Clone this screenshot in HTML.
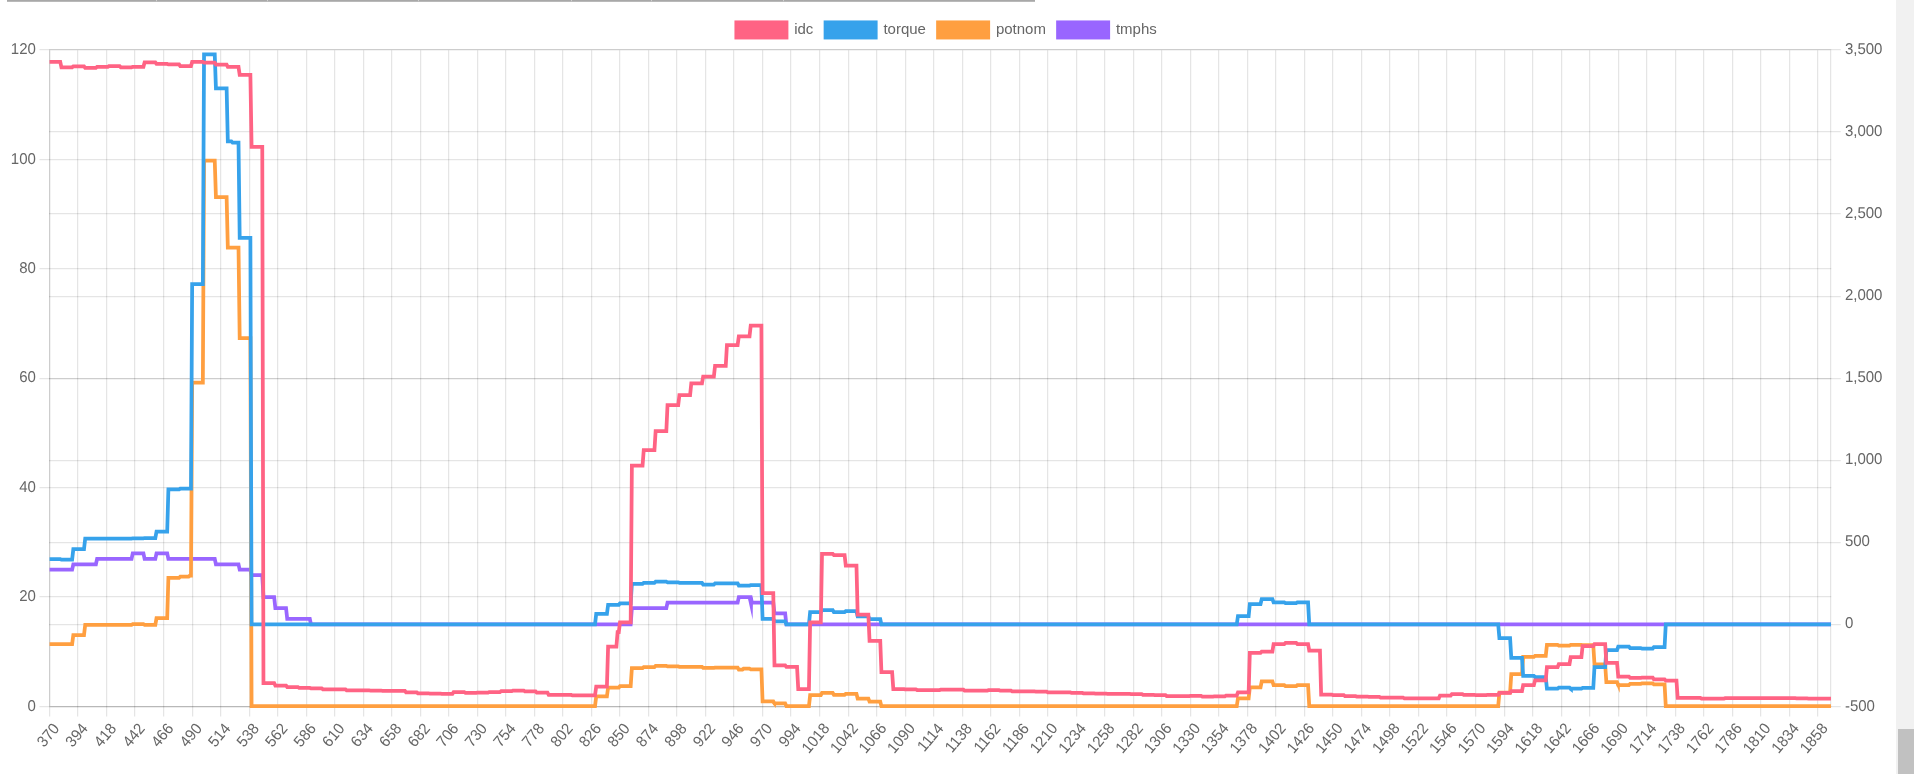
<!DOCTYPE html>
<html><head><meta charset="utf-8"><title>chart</title>
<style>
html,body{margin:0;padding:0;background:#fff;overflow:hidden}
body{width:1914px;height:774px;position:relative;font-family:"Liberation Sans",sans-serif}
svg{position:absolute;left:0;top:0}
text{font-family:"Liberation Sans",sans-serif;font-size:15px;fill:#666}
.grid rect{fill:rgba(0,0,0,0.1)}
.tx{filter:grayscale(1)}
.ds path{fill:none;stroke-width:3.75;stroke-linejoin:miter;stroke-miterlimit:10;stroke-linecap:butt}
</style></head><body>
<svg width="1914" height="774" viewBox="0 0 1914 774">
<rect x="0" y="0" width="1914" height="774" fill="#fff"/>
<rect x="7" y="0" width="1028" height="1.8" fill="#a8a8a8"/>
<g fill="#d0d0d0">
<rect x="156" y="0" width="1" height="1.2"/><rect x="267" y="0" width="1" height="1.2"/><rect x="418" y="0" width="1" height="1.2"/>
<rect x="571" y="0" width="1" height="1.2"/><rect x="651" y="0" width="1" height="1.2"/><rect x="783" y="0" width="1" height="1.2"/>
</g>
<g class="grid">
<rect x="49" y="50.25" width="1.25" height="655.75"/>
<rect x="49" y="707.25" width="1.25" height="9.25"/>
<rect x="77" y="50.25" width="1.25" height="666.25"/>
<rect x="106" y="50.25" width="1.25" height="666.25"/>
<rect x="134" y="50.25" width="1.25" height="666.25"/>
<rect x="163" y="50.25" width="1.25" height="666.25"/>
<rect x="192" y="50.25" width="1.25" height="666.25"/>
<rect x="220" y="50.25" width="1.25" height="666.25"/>
<rect x="249" y="50.25" width="1.25" height="666.25"/>
<rect x="277" y="50.25" width="1.25" height="666.25"/>
<rect x="306" y="50.25" width="1.25" height="666.25"/>
<rect x="334" y="50.25" width="1.25" height="666.25"/>
<rect x="363" y="50.25" width="1.25" height="666.25"/>
<rect x="391" y="50.25" width="1.25" height="666.25"/>
<rect x="420" y="50.25" width="1.25" height="666.25"/>
<rect x="448" y="50.25" width="1.25" height="666.25"/>
<rect x="477" y="50.25" width="1.25" height="666.25"/>
<rect x="505" y="50.25" width="1.25" height="666.25"/>
<rect x="534" y="50.25" width="1.25" height="666.25"/>
<rect x="562" y="50.25" width="1.25" height="666.25"/>
<rect x="591" y="50.25" width="1.25" height="666.25"/>
<rect x="619" y="50.25" width="1.25" height="666.25"/>
<rect x="648" y="50.25" width="1.25" height="666.25"/>
<rect x="676" y="50.25" width="1.25" height="666.25"/>
<rect x="705" y="50.25" width="1.25" height="666.25"/>
<rect x="733" y="50.25" width="1.25" height="666.25"/>
<rect x="762" y="50.25" width="1.25" height="666.25"/>
<rect x="790" y="50.25" width="1.25" height="666.25"/>
<rect x="819" y="50.25" width="1.25" height="666.25"/>
<rect x="848" y="50.25" width="1.25" height="666.25"/>
<rect x="876" y="50.25" width="1.25" height="666.25"/>
<rect x="905" y="50.25" width="1.25" height="666.25"/>
<rect x="933" y="50.25" width="1.25" height="666.25"/>
<rect x="962" y="50.25" width="1.25" height="666.25"/>
<rect x="990" y="50.25" width="1.25" height="666.25"/>
<rect x="1019" y="50.25" width="1.25" height="666.25"/>
<rect x="1047" y="50.25" width="1.25" height="666.25"/>
<rect x="1076" y="50.25" width="1.25" height="666.25"/>
<rect x="1104" y="50.25" width="1.25" height="666.25"/>
<rect x="1133" y="50.25" width="1.25" height="666.25"/>
<rect x="1161" y="50.25" width="1.25" height="666.25"/>
<rect x="1190" y="50.25" width="1.25" height="666.25"/>
<rect x="1218" y="50.25" width="1.25" height="666.25"/>
<rect x="1247" y="50.25" width="1.25" height="666.25"/>
<rect x="1275" y="50.25" width="1.25" height="666.25"/>
<rect x="1304" y="50.25" width="1.25" height="666.25"/>
<rect x="1332" y="50.25" width="1.25" height="666.25"/>
<rect x="1361" y="50.25" width="1.25" height="666.25"/>
<rect x="1389" y="50.25" width="1.25" height="666.25"/>
<rect x="1418" y="50.25" width="1.25" height="666.25"/>
<rect x="1446" y="50.25" width="1.25" height="666.25"/>
<rect x="1475" y="50.25" width="1.25" height="666.25"/>
<rect x="1504" y="50.25" width="1.25" height="666.25"/>
<rect x="1532" y="50.25" width="1.25" height="666.25"/>
<rect x="1561" y="50.25" width="1.25" height="666.25"/>
<rect x="1589" y="50.25" width="1.25" height="666.25"/>
<rect x="1618" y="50.25" width="1.25" height="666.25"/>
<rect x="1646" y="50.25" width="1.25" height="666.25"/>
<rect x="1675" y="50.25" width="1.25" height="666.25"/>
<rect x="1703" y="50.25" width="1.25" height="666.25"/>
<rect x="1732" y="50.25" width="1.25" height="666.25"/>
<rect x="1760" y="50.25" width="1.25" height="666.25"/>
<rect x="1789" y="50.25" width="1.25" height="666.25"/>
<rect x="1817" y="50.25" width="1.25" height="666.25"/>
<rect x="39.50" y="49" width="1791.75" height="1.25"/>
<rect x="39.50" y="159" width="1791.75" height="1.25"/>
<rect x="39.50" y="268" width="1791.75" height="1.25"/>
<rect x="39.50" y="378" width="1791.75" height="1.25"/>
<rect x="39.50" y="487" width="1791.75" height="1.25"/>
<rect x="39.50" y="596" width="1791.75" height="1.25"/>
<rect x="39.50" y="706" width="1791.75" height="1.25"/>
<rect x="49.00" y="49" width="1791.75" height="1.25"/>
<rect x="49.00" y="131" width="1791.75" height="1.25"/>
<rect x="49.00" y="213" width="1791.75" height="1.25"/>
<rect x="49.00" y="296" width="1791.75" height="1.25"/>
<rect x="49.00" y="378" width="1791.75" height="1.25"/>
<rect x="49.00" y="460" width="1791.75" height="1.25"/>
<rect x="49.00" y="542" width="1791.75" height="1.25"/>
<rect x="49.00" y="624" width="1791.75" height="1.25"/>
<rect x="49.00" y="706" width="1791.75" height="1.25"/>
<rect x="49" y="50.25" width="1.25" height="655.75"/>
<rect x="1830" y="50.25" width="1.25" height="655.75"/>
<rect x="49.00" y="706" width="1782.25" height="1.25"/>
</g>
<g class="ds">
<path stroke="#9966ff" d="M49.55 569.73 L72.13 569.73 L73.32 564.26 L95.90 564.26 L97.09 558.79 L131.55 558.79 L132.74 553.32 L143.43 553.32 L144.62 558.79 L155.32 558.79 L156.51 553.32 L167.20 553.32 L168.39 558.79 L214.74 558.79 L215.93 564.26 L238.51 564.26 L239.69 569.73 L250.39 569.73 L251.58 575.20 L262.27 575.20 L263.46 597.08 L274.16 597.08 L275.35 608.02 L286.04 608.02 L287.23 618.96 L309.81 618.96 L311.00 624.43 L630.68 624.43 L631.87 608.02 L666.33 608.02 L667.52 602.55 L737.63 602.55 L738.82 597.08 L750.71 597.08 L751.89 602.55 L773.28 602.55 L774.47 613.49 L785.17 613.49 L786.36 624.43 L1830.96 624.43"/>
<polygon fill="#9966ff" points="748.0,598.8 751.5,597 752.85,598 752.85,606 752.6,619.6"/>
<path stroke="#ff9f40" d="M49.55 644.00 L72.13 644.00 L73.32 635.00 L84.01 635.00 L85.20 624.90 L131.55 624.90 L132.74 624.20 L143.43 624.20 L144.62 624.90 L155.32 624.90 L156.51 618.10 L167.20 618.10 L168.39 577.80 L179.09 577.80 L180.27 576.70 L188.59 576.70 L189.78 575.70 L190.97 575.70 L192.16 382.70 L202.85 382.70 L204.04 160.70 L214.74 160.70 L215.93 197.10 L226.62 197.10 L227.81 247.60 L238.51 247.60 L239.69 338.20 L250.39 338.20 L251.58 706.20 L595.03 706.20 L596.21 696.40 L606.91 696.40 L608.10 687.60 L618.79 687.60 L619.98 686.10 L630.68 686.10 L631.87 668.20 L642.56 668.20 L643.75 667.00 L654.45 667.00 L655.63 665.80 L666.33 665.80 L667.52 666.40 L678.21 666.40 L679.40 666.80 L701.98 666.80 L703.17 667.90 L713.87 667.90 L715.05 667.60 L725.75 667.60 L726.94 667.70 L737.63 667.70 L738.82 669.60 L742.39 669.60 L743.57 668.70 L749.52 668.70 L750.71 669.30 L761.40 669.30 L762.59 701.30 L773.28 701.30 L774.47 703.40 L785.17 703.40 L786.36 706.00 L808.94 706.00 L810.13 695.20 L820.82 695.20 L822.01 692.90 L832.70 692.90 L833.89 694.80 L844.59 694.80 L845.78 693.80 L856.47 693.80 L857.66 698.50 L868.36 698.50 L869.55 701.70 L880.24 701.70 L881.43 706.20 L1236.76 706.20 L1237.95 698.30 L1248.64 698.30 L1249.83 687.40 L1260.53 687.40 L1261.72 681.40 L1272.41 681.40 L1273.60 685.20 L1284.30 685.20 L1285.48 686.20 L1296.18 686.20 L1297.37 685.20 L1308.06 685.20 L1309.25 706.20 L1498.21 706.20 L1499.40 692.50 L1510.09 692.50 L1511.28 674.10 L1521.98 674.10 L1523.16 656.90 L1533.86 656.90 L1535.05 655.90 L1545.74 655.90 L1546.93 644.90 L1557.63 644.90 L1558.82 645.60 L1569.51 645.60 L1570.70 644.90 L1581.40 644.90 L1582.58 645.20 L1593.28 645.20 L1594.47 664.40 L1605.16 664.40 L1606.35 682.10 L1617.05 682.10 L1618.24 685.00 L1628.93 685.00 L1630.12 683.80 L1640.82 683.80 L1642.00 683.30 L1652.70 683.30 L1653.89 684.40 L1664.58 684.40 L1665.77 706.20 L1830.96 706.20"/>
<polygon fill="#ff9f40" points="772.2,703 776.15,702 776.15,704.8 775.6,707.9"/>
<polygon fill="#ff9f40" points="1615.9,683.8 1619.85,683 1619.85,686.7 1619.7,692.9"/>
<path stroke="#36a2eb" d="M49.55 559.00 L60.25 559.00 L61.43 559.60 L72.13 559.60 L73.32 549.20 L84.01 549.20 L85.20 538.60 L107.78 538.60 L108.97 538.70 L131.55 538.70 L132.74 538.30 L143.43 538.30 L144.62 538.00 L155.32 538.00 L156.51 531.70 L167.20 531.70 L168.39 489.40 L179.09 489.40 L180.27 488.60 L190.97 488.60 L192.16 284.20 L202.85 284.20 L204.04 54.40 L214.74 54.40 L215.93 88.30 L226.62 88.30 L227.81 141.30 L231.38 141.30 L232.56 142.50 L238.51 142.50 L239.69 237.80 L250.39 237.80 L251.58 624.40 L595.03 624.40 L596.21 613.90 L606.91 613.90 L608.10 604.90 L618.79 604.90 L619.98 603.30 L630.68 603.30 L631.87 583.80 L642.56 583.80 L643.75 582.80 L654.45 582.80 L655.63 581.70 L666.33 581.70 L667.52 582.30 L678.21 582.30 L679.40 582.80 L701.98 582.80 L703.17 584.50 L713.87 584.50 L715.05 583.40 L737.63 583.40 L738.82 585.50 L749.52 585.50 L750.71 585.10 L761.40 585.10 L762.59 618.90 L773.28 618.90 L774.47 621.40 L785.17 621.40 L786.36 624.40 L808.94 624.40 L810.13 612.10 L820.82 612.10 L822.01 610.00 L832.70 610.00 L833.89 612.10 L844.59 612.10 L845.78 611.20 L856.47 611.20 L857.66 616.30 L868.36 616.30 L869.55 619.00 L880.24 619.00 L881.43 624.40 L1236.76 624.40 L1237.95 616.10 L1248.64 616.10 L1249.83 604.00 L1260.53 604.00 L1261.72 599.00 L1272.41 599.00 L1273.60 602.30 L1284.30 602.30 L1285.48 603.20 L1296.18 603.20 L1297.37 602.30 L1308.06 602.30 L1309.25 624.40 L1498.21 624.40 L1499.40 638.00 L1510.09 638.00 L1511.28 657.80 L1521.98 657.80 L1523.16 675.90 L1533.86 675.90 L1535.05 677.00 L1545.74 677.00 L1546.93 688.70 L1557.63 688.70 L1558.82 687.60 L1569.51 687.60 L1570.70 688.70 L1581.40 688.70 L1582.58 687.90 L1593.28 687.90 L1594.47 667.20 L1605.16 667.20 L1606.35 650.00 L1617.05 650.00 L1618.24 646.60 L1628.93 646.60 L1630.12 648.20 L1640.82 648.20 L1642.00 648.50 L1652.70 648.50 L1653.89 647.10 L1664.58 647.10 L1665.77 624.40 L1830.96 624.40"/>
<polygon fill="#36a2eb" points="1568.8,689.7 1572.8,689 1572.8,690.5 1572.8,692.9"/>
<path stroke="#ff6384" d="M49.55 61.90 L60.25 61.90 L61.43 67.30 L72.13 67.30 L73.32 66.30 L84.01 66.30 L85.20 67.90 L95.90 67.90 L97.09 66.90 L107.78 66.90 L108.97 66.10 L119.67 66.10 L120.85 67.30 L131.55 67.30 L132.74 66.80 L143.43 66.80 L144.62 62.30 L155.32 62.30 L156.51 63.90 L167.20 63.90 L168.39 64.40 L179.09 64.40 L180.27 66.10 L190.97 66.10 L192.16 61.90 L202.85 61.90 L204.04 62.60 L214.74 62.60 L215.93 64.70 L226.62 64.70 L227.81 66.90 L238.51 66.90 L239.69 74.80 L250.39 74.80 L251.58 146.90 L262.27 146.90 L263.46 683.00 L274.16 683.00 L275.35 685.50 L286.04 685.50 L287.23 687.00 L297.93 687.00 L299.11 687.90 L309.81 687.90 L311.00 688.30 L321.69 688.30 L322.88 689.30 L345.46 689.30 L346.65 690.40 L369.23 690.40 L370.42 690.50 L381.11 690.50 L382.30 690.80 L404.88 690.80 L406.07 692.40 L416.77 692.40 L417.95 693.30 L428.65 693.30 L429.84 693.70 L440.53 693.70 L441.72 693.90 L452.42 693.90 L453.61 692.00 L464.30 692.00 L465.49 692.90 L476.19 692.90 L477.37 692.70 L488.07 692.70 L489.26 692.00 L499.95 692.00 L501.14 691.20 L511.84 691.20 L513.03 690.50 L523.72 690.50 L524.91 691.40 L535.61 691.40 L536.79 692.70 L547.49 692.70 L548.68 694.90 L571.26 694.90 L572.45 695.40 L595.03 695.40 L596.21 686.60 L606.91 686.60 L608.10 646.50 L616.42 646.50 L617.60 632.10 L618.79 632.10 L619.98 622.40 L630.68 622.40 L631.87 465.50 L642.56 465.50 L643.75 450.20 L654.45 450.20 L655.63 431.10 L666.33 431.10 L667.52 405.20 L678.21 405.20 L679.40 395.00 L690.10 395.00 L691.29 383.40 L701.98 383.40 L703.17 376.50 L713.87 376.50 L715.05 365.80 L725.75 365.80 L726.94 345.10 L737.63 345.10 L738.82 336.30 L749.52 336.30 L750.71 325.70 L761.40 325.70 L762.59 593.20 L773.28 593.20 L774.47 665.30 L785.17 665.30 L786.36 666.80 L797.05 666.80 L798.24 689.10 L808.94 689.10 L810.13 622.40 L820.82 622.40 L822.01 553.80 L832.70 553.80 L833.89 555.10 L844.59 555.10 L845.78 565.50 L856.47 565.50 L857.66 614.60 L868.36 614.60 L869.55 640.80 L880.24 640.80 L881.43 672.20 L892.12 672.20 L893.31 689.10 L904.01 689.10 L905.20 689.40 L915.89 689.40 L917.08 690.00 L939.66 690.00 L940.85 689.50 L951.54 689.50 L952.73 689.70 L963.43 689.70 L964.62 690.70 L987.20 690.70 L988.39 690.20 L999.08 690.20 L1000.27 690.70 L1010.96 690.70 L1012.15 691.40 L1034.73 691.40 L1035.92 691.70 L1046.62 691.70 L1047.81 692.40 L1070.38 692.40 L1071.57 692.90 L1082.27 692.90 L1083.46 693.30 L1094.15 693.30 L1095.34 693.50 L1106.04 693.50 L1107.23 693.80 L1129.80 693.80 L1130.99 694.00 L1141.69 694.00 L1142.88 694.80 L1153.57 694.80 L1154.76 695.00 L1165.46 695.00 L1166.64 696.00 L1189.22 696.00 L1190.41 695.80 L1201.11 695.80 L1202.30 696.50 L1212.99 696.50 L1214.18 696.30 L1224.88 696.30 L1226.06 695.50 L1236.76 695.50 L1237.95 692.40 L1248.64 692.40 L1249.83 652.80 L1260.53 652.80 L1261.72 651.50 L1272.41 651.50 L1273.60 644.00 L1284.30 644.00 L1285.48 642.90 L1296.18 642.90 L1297.37 644.00 L1308.06 644.00 L1309.25 650.60 L1319.95 650.60 L1321.14 694.60 L1331.83 694.60 L1333.02 695.00 L1343.72 695.00 L1344.90 696.10 L1355.60 696.10 L1356.79 696.50 L1367.48 696.50 L1368.67 696.80 L1379.37 696.80 L1380.56 697.50 L1391.25 697.50 L1392.44 697.70 L1403.14 697.70 L1404.32 698.30 L1438.79 698.30 L1439.98 695.60 L1450.67 695.60 L1451.86 694.10 L1462.56 694.10 L1463.74 694.80 L1474.44 694.80 L1475.63 695.10 L1486.32 695.10 L1487.51 694.80 L1498.21 694.80 L1499.40 692.90 L1510.09 692.90 L1511.28 691.00 L1521.98 691.00 L1523.16 685.10 L1533.86 685.10 L1535.05 680.30 L1545.74 680.30 L1546.93 667.20 L1557.63 667.20 L1558.82 664.00 L1569.51 664.00 L1570.70 657.10 L1581.40 657.10 L1582.58 646.10 L1593.28 646.10 L1594.47 644.00 L1605.16 644.00 L1606.35 662.80 L1617.05 662.80 L1618.24 676.60 L1628.93 676.60 L1630.12 677.80 L1640.82 677.80 L1642.00 677.60 L1652.70 677.60 L1653.89 679.30 L1664.58 679.30 L1665.77 680.70 L1676.47 680.70 L1677.66 697.90 L1700.24 697.90 L1701.42 698.50 L1724.00 698.50 L1725.19 698.10 L1795.31 698.10 L1796.50 698.30 L1807.19 698.30 L1808.38 698.50 L1830.96 698.50"/>
</g>
<g>
<rect x="734.45" y="20.45" width="53.95" height="19.0" fill="#ff6384"/>
<rect x="823.65" y="20.45" width="53.95" height="19.0" fill="#36a2eb"/>
<rect x="936.15" y="20.45" width="53.95" height="19.0" fill="#ff9f40"/>
<rect x="1056.15" y="20.45" width="53.95" height="19.0" fill="#9966ff"/>
</g>
<g class="tx">
<text x="794.20" y="33.9">idc</text>
<text x="883.40" y="33.9">torque</text>
<text x="995.90" y="33.9">potnom</text>
<text x="1115.90" y="33.9">tmphs</text>
</g>
<g class="tx">
<text transform="translate(35.9 53.95) rotate(0.03) scale(1 1.04)" text-anchor="end">120</text>
<text transform="translate(35.9 163.95) rotate(0.03) scale(1 1.04)" text-anchor="end">100</text>
<text transform="translate(35.9 272.95) rotate(0.03) scale(1 1.04)" text-anchor="end">80</text>
<text transform="translate(35.9 381.95) rotate(0.03) scale(1 1.04)" text-anchor="end">60</text>
<text transform="translate(35.9 491.95) rotate(0.03) scale(1 1.04)" text-anchor="end">40</text>
<text transform="translate(35.9 600.95) rotate(0.03) scale(1 1.04)" text-anchor="end">20</text>
<text transform="translate(35.9 710.95) rotate(0.03) scale(1 1.04)" text-anchor="end">0</text>
<text transform="translate(1844.9 53.95) rotate(0.03) scale(1 1.04)">3,500</text>
<text transform="translate(1844.9 135.95) rotate(0.03) scale(1 1.04)">3,000</text>
<text transform="translate(1844.9 217.95) rotate(0.03) scale(1 1.04)">2,500</text>
<text transform="translate(1844.9 299.95) rotate(0.03) scale(1 1.04)">2,000</text>
<text transform="translate(1844.9 381.95) rotate(0.03) scale(1 1.04)">1,500</text>
<text transform="translate(1844.9 463.95) rotate(0.03) scale(1 1.04)">1,000</text>
<text transform="translate(1844.9 545.95) rotate(0.03) scale(1 1.04)">500</text>
<text transform="translate(1844.9 627.95) rotate(0.03) scale(1 1.04)">0</text>
<text transform="translate(1844.9 710.95) rotate(0.03) scale(1 1.04)">-500</text>
<text transform="translate(55.95 725.2) rotate(-50) translate(0 5.5) scale(1 1.04)" text-anchor="end">370</text>
<text transform="translate(84.47 725.2) rotate(-50) translate(0 5.5) scale(1 1.04)" text-anchor="end">394</text>
<text transform="translate(112.99 725.2) rotate(-50) translate(0 5.5) scale(1 1.04)" text-anchor="end">418</text>
<text transform="translate(141.51 725.2) rotate(-50) translate(0 5.5) scale(1 1.04)" text-anchor="end">442</text>
<text transform="translate(170.04 725.2) rotate(-50) translate(0 5.5) scale(1 1.04)" text-anchor="end">466</text>
<text transform="translate(198.56 725.2) rotate(-50) translate(0 5.5) scale(1 1.04)" text-anchor="end">490</text>
<text transform="translate(227.08 725.2) rotate(-50) translate(0 5.5) scale(1 1.04)" text-anchor="end">514</text>
<text transform="translate(255.60 725.2) rotate(-50) translate(0 5.5) scale(1 1.04)" text-anchor="end">538</text>
<text transform="translate(284.12 725.2) rotate(-50) translate(0 5.5) scale(1 1.04)" text-anchor="end">562</text>
<text transform="translate(312.64 725.2) rotate(-50) translate(0 5.5) scale(1 1.04)" text-anchor="end">586</text>
<text transform="translate(341.17 725.2) rotate(-50) translate(0 5.5) scale(1 1.04)" text-anchor="end">610</text>
<text transform="translate(369.69 725.2) rotate(-50) translate(0 5.5) scale(1 1.04)" text-anchor="end">634</text>
<text transform="translate(398.21 725.2) rotate(-50) translate(0 5.5) scale(1 1.04)" text-anchor="end">658</text>
<text transform="translate(426.73 725.2) rotate(-50) translate(0 5.5) scale(1 1.04)" text-anchor="end">682</text>
<text transform="translate(455.25 725.2) rotate(-50) translate(0 5.5) scale(1 1.04)" text-anchor="end">706</text>
<text transform="translate(483.77 725.2) rotate(-50) translate(0 5.5) scale(1 1.04)" text-anchor="end">730</text>
<text transform="translate(512.30 725.2) rotate(-50) translate(0 5.5) scale(1 1.04)" text-anchor="end">754</text>
<text transform="translate(540.82 725.2) rotate(-50) translate(0 5.5) scale(1 1.04)" text-anchor="end">778</text>
<text transform="translate(569.34 725.2) rotate(-50) translate(0 5.5) scale(1 1.04)" text-anchor="end">802</text>
<text transform="translate(597.86 725.2) rotate(-50) translate(0 5.5) scale(1 1.04)" text-anchor="end">826</text>
<text transform="translate(626.38 725.2) rotate(-50) translate(0 5.5) scale(1 1.04)" text-anchor="end">850</text>
<text transform="translate(654.90 725.2) rotate(-50) translate(0 5.5) scale(1 1.04)" text-anchor="end">874</text>
<text transform="translate(683.42 725.2) rotate(-50) translate(0 5.5) scale(1 1.04)" text-anchor="end">898</text>
<text transform="translate(711.95 725.2) rotate(-50) translate(0 5.5) scale(1 1.04)" text-anchor="end">922</text>
<text transform="translate(740.47 725.2) rotate(-50) translate(0 5.5) scale(1 1.04)" text-anchor="end">946</text>
<text transform="translate(768.99 725.2) rotate(-50) translate(0 5.5) scale(1 1.04)" text-anchor="end">970</text>
<text transform="translate(797.51 725.2) rotate(-50) translate(0 5.5) scale(1 1.04)" text-anchor="end">994</text>
<text transform="translate(826.03 725.2) rotate(-50) translate(0 5.5) scale(1 1.04)" text-anchor="end">1018</text>
<text transform="translate(854.55 725.2) rotate(-50) translate(0 5.5) scale(1 1.04)" text-anchor="end">1042</text>
<text transform="translate(883.08 725.2) rotate(-50) translate(0 5.5) scale(1 1.04)" text-anchor="end">1066</text>
<text transform="translate(911.60 725.2) rotate(-50) translate(0 5.5) scale(1 1.04)" text-anchor="end">1090</text>
<text transform="translate(940.12 725.2) rotate(-50) translate(0 5.5) scale(1 1.04)" text-anchor="end">1114</text>
<text transform="translate(968.64 725.2) rotate(-50) translate(0 5.5) scale(1 1.04)" text-anchor="end">1138</text>
<text transform="translate(997.16 725.2) rotate(-50) translate(0 5.5) scale(1 1.04)" text-anchor="end">1162</text>
<text transform="translate(1025.68 725.2) rotate(-50) translate(0 5.5) scale(1 1.04)" text-anchor="end">1186</text>
<text transform="translate(1054.21 725.2) rotate(-50) translate(0 5.5) scale(1 1.04)" text-anchor="end">1210</text>
<text transform="translate(1082.73 725.2) rotate(-50) translate(0 5.5) scale(1 1.04)" text-anchor="end">1234</text>
<text transform="translate(1111.25 725.2) rotate(-50) translate(0 5.5) scale(1 1.04)" text-anchor="end">1258</text>
<text transform="translate(1139.77 725.2) rotate(-50) translate(0 5.5) scale(1 1.04)" text-anchor="end">1282</text>
<text transform="translate(1168.29 725.2) rotate(-50) translate(0 5.5) scale(1 1.04)" text-anchor="end">1306</text>
<text transform="translate(1196.81 725.2) rotate(-50) translate(0 5.5) scale(1 1.04)" text-anchor="end">1330</text>
<text transform="translate(1225.33 725.2) rotate(-50) translate(0 5.5) scale(1 1.04)" text-anchor="end">1354</text>
<text transform="translate(1253.86 725.2) rotate(-50) translate(0 5.5) scale(1 1.04)" text-anchor="end">1378</text>
<text transform="translate(1282.38 725.2) rotate(-50) translate(0 5.5) scale(1 1.04)" text-anchor="end">1402</text>
<text transform="translate(1310.90 725.2) rotate(-50) translate(0 5.5) scale(1 1.04)" text-anchor="end">1426</text>
<text transform="translate(1339.42 725.2) rotate(-50) translate(0 5.5) scale(1 1.04)" text-anchor="end">1450</text>
<text transform="translate(1367.94 725.2) rotate(-50) translate(0 5.5) scale(1 1.04)" text-anchor="end">1474</text>
<text transform="translate(1396.46 725.2) rotate(-50) translate(0 5.5) scale(1 1.04)" text-anchor="end">1498</text>
<text transform="translate(1424.99 725.2) rotate(-50) translate(0 5.5) scale(1 1.04)" text-anchor="end">1522</text>
<text transform="translate(1453.51 725.2) rotate(-50) translate(0 5.5) scale(1 1.04)" text-anchor="end">1546</text>
<text transform="translate(1482.03 725.2) rotate(-50) translate(0 5.5) scale(1 1.04)" text-anchor="end">1570</text>
<text transform="translate(1510.55 725.2) rotate(-50) translate(0 5.5) scale(1 1.04)" text-anchor="end">1594</text>
<text transform="translate(1539.07 725.2) rotate(-50) translate(0 5.5) scale(1 1.04)" text-anchor="end">1618</text>
<text transform="translate(1567.59 725.2) rotate(-50) translate(0 5.5) scale(1 1.04)" text-anchor="end">1642</text>
<text transform="translate(1596.12 725.2) rotate(-50) translate(0 5.5) scale(1 1.04)" text-anchor="end">1666</text>
<text transform="translate(1624.64 725.2) rotate(-50) translate(0 5.5) scale(1 1.04)" text-anchor="end">1690</text>
<text transform="translate(1653.16 725.2) rotate(-50) translate(0 5.5) scale(1 1.04)" text-anchor="end">1714</text>
<text transform="translate(1681.68 725.2) rotate(-50) translate(0 5.5) scale(1 1.04)" text-anchor="end">1738</text>
<text transform="translate(1710.20 725.2) rotate(-50) translate(0 5.5) scale(1 1.04)" text-anchor="end">1762</text>
<text transform="translate(1738.72 725.2) rotate(-50) translate(0 5.5) scale(1 1.04)" text-anchor="end">1786</text>
<text transform="translate(1767.24 725.2) rotate(-50) translate(0 5.5) scale(1 1.04)" text-anchor="end">1810</text>
<text transform="translate(1795.77 725.2) rotate(-50) translate(0 5.5) scale(1 1.04)" text-anchor="end">1834</text>
<text transform="translate(1824.29 725.2) rotate(-50) translate(0 5.5) scale(1 1.04)" text-anchor="end">1858</text>
</g>
<rect x="1896" y="0" width="18" height="774" fill="#f1f1f1"/>
<rect x="1898" y="729" width="16" height="45" fill="#c1c1c1"/>
</svg>
</body></html>
